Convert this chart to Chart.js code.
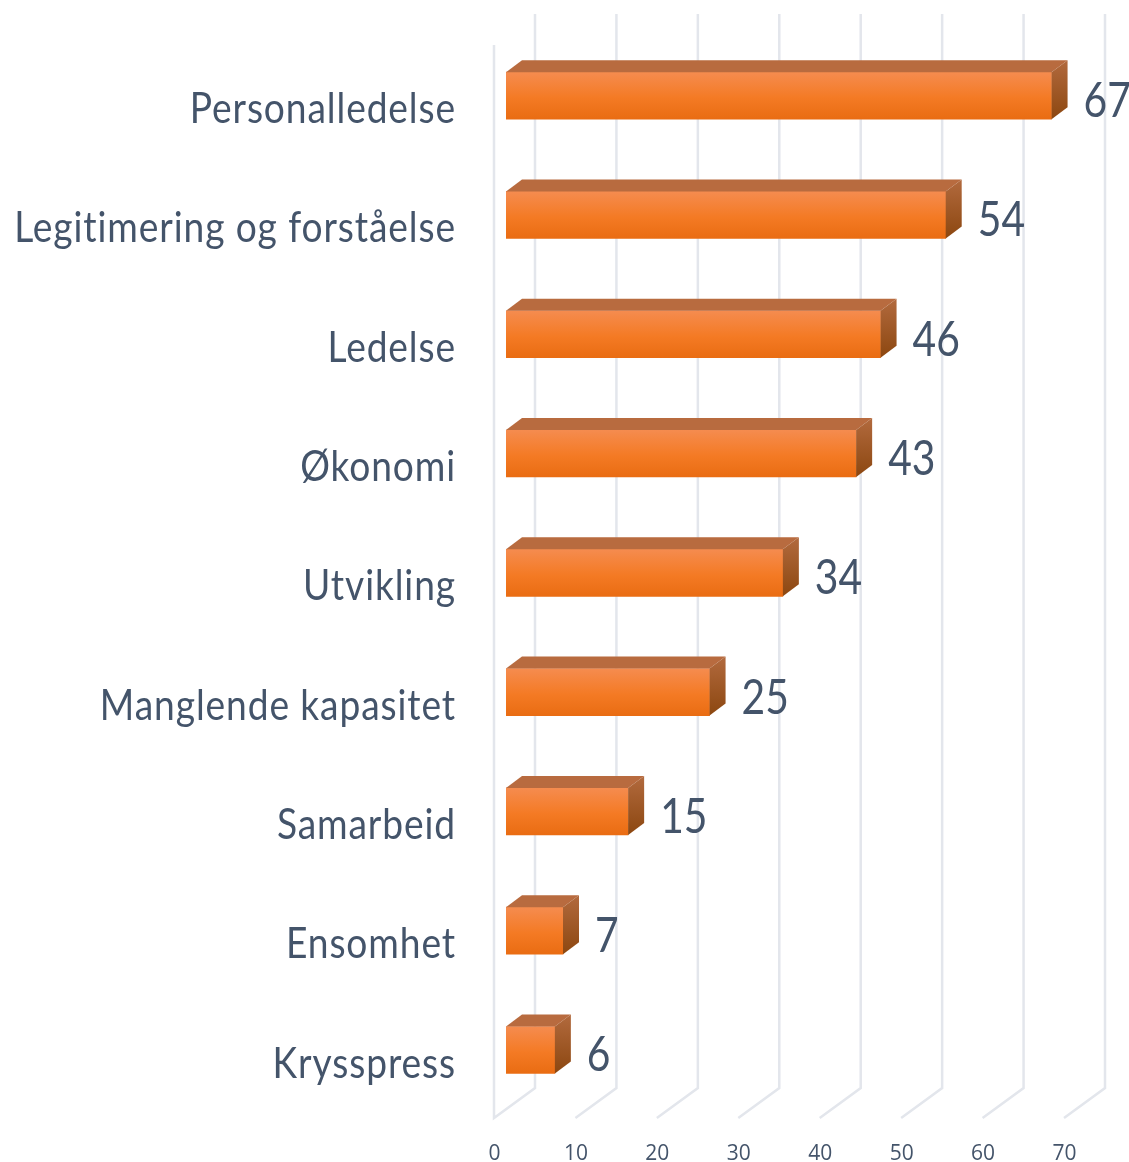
<!DOCTYPE html>
<html>
<head>
<meta charset="utf-8">
<title>Chart</title>
<script src="https://cdn.jsdelivr.net/npm/chart.js@4"></script>
<style>
  html, body { margin: 0; padding: 0; background: #fff; }
  canvas { display: block; }
</style>
</head>
<body>
<canvas id="chrBars" width="1129" height="1162"></canvas>
<script>
const categories = ["Personalledelse","Legitimering og forståelse","Ledelse","Økonomi","Utvikling","Manglende kapasitet","Samarbeid","Ensomhet","Krysspress"];
const values = [67,54,46,43,34,25,15,7,6];
const tickValues = [0,10,20,30,40,50,60,70];

const textColor = '#44546A';
const gridColor = '#E3E6EC';
const barDepthX = 16, barDepthY = 12;   // extrusion of the bars

// the source text is horizontally squeezed, no condensed font here so scale it
const squeezedText = (c, text, x, y, sx, align) => {
  c.save();
  c.translate(x, y);
  c.scale(sx, 1);
  c.textAlign = align;
  c.textBaseline = 'middle';
  c.fillText(text, 0, 0);
  c.restore();
};

// the fake 3D walls behind the bars
const walls = {
  id: 'walls',
  beforeDatasetsDraw(chart) {
    const c = chart.ctx, x = chart.scales.x;
    c.save();
    c.strokeStyle = gridColor;
    c.lineWidth = 2.5;
    tickValues.forEach((v, i) => {
      const px = x.getPixelForValue(v);
      c.beginPath();
      c.moveTo(px + 29, 14);
      c.lineTo(px + 29, 1088);
      c.lineTo(px - 12, 1118);
      if (i === 0) c.lineTo(px - 12, 45);
      c.stroke();
    });
    c.restore();
  }
};

// top and side faces of each bar + value labels + category labels
const faces = {
  id: 'faces',
  afterDatasetsDraw(chart) {
    const c = chart.ctx, y = chart.scales.y;
    chart.getDatasetMeta(0).data.forEach((bar, i) => {
      const top = bar.y - bar.height / 2, bottom = bar.y + bar.height / 2;
      const left = bar.base, right = bar.x;

      c.fillStyle = '#B86B3F';
      c.beginPath();
      c.moveTo(left, top);
      c.lineTo(left + barDepthX, top - barDepthY);
      c.lineTo(right + barDepthX, top - barDepthY);
      c.lineTo(right, top);
      c.closePath();
      c.fill();

      const side = c.createLinearGradient(0, top - barDepthY, 0, bottom);
      side.addColorStop(0, '#B26A3E');
      side.addColorStop(1, '#8C4710');
      c.fillStyle = side;
      c.beginPath();
      c.moveTo(right, top);
      c.lineTo(right + barDepthX, top - barDepthY);
      c.lineTo(right + barDepthX, bottom - barDepthY);
      c.lineTo(right, bottom);
      c.closePath();
      c.fill();

      c.fillStyle = textColor;
      c.font = '48px Lato';
      c.letterSpacing = '0px';
      squeezedText(c, values[i], right + 32, bar.y + 6, 0.85, 'left');
      c.font = '42px Lato';
      c.letterSpacing = '1px';   // also stops the "ti" ligature
      squeezedText(c, categories[i], 456, y.getPixelForValue(i) + 14, 0.885, 'right');
    });
  }
};

new Chart(document.getElementById('chrBars').getContext('2d'), {
  type: 'bar',
  data: {
    labels: categories,
    datasets: [{
      data: values,
      barThickness: 47,
      borderWidth: 0,
      backgroundColor: (ctx) => {
        const y = ctx.chart.scales.y;
        const mid = y ? y.getPixelForValue(ctx.dataIndex) : NaN;
        if (!Number.isFinite(mid)) return '#F47A24';
        const g = ctx.chart.ctx.createLinearGradient(0, mid - 24, 0, mid + 24);
        g.addColorStop(0, '#F58C50');
        g.addColorStop(0.55, '#F47A24');
        g.addColorStop(1, '#E96C12');
        return g;
      }
    }]
  },
  options: {
    indexAxis: 'y',
    responsive: false,
    animation: false,
    layout: { padding: { top: 36, right: 53, left: 0, bottom: 0 } },
    plugins: { legend: { display: false }, tooltip: { enabled: false } },
    scales: {
      x: {
        min: 0,
        max: 70,
        afterBuildTicks: (s) => { s.ticks = tickValues.map(v => ({ value: v })); },
        afterFit: (s) => { s.height = 52.4; },
        grid: { display: false },
        border: { display: false },
        ticks: {
          color: textColor,
          font: { family: '"Open Sans"', size: 21 },
          maxRotation: 0,
          labelOffset: -11.5,
          padding: 24
        }
      },
      y: {
        afterFit: (s) => { s.width = 506; },
        grid: { display: false },
        border: { display: false },
        ticks: { display: false }
      }
    }
  },
  plugins: [walls, faces]
});
</script>
</body>
</html>
